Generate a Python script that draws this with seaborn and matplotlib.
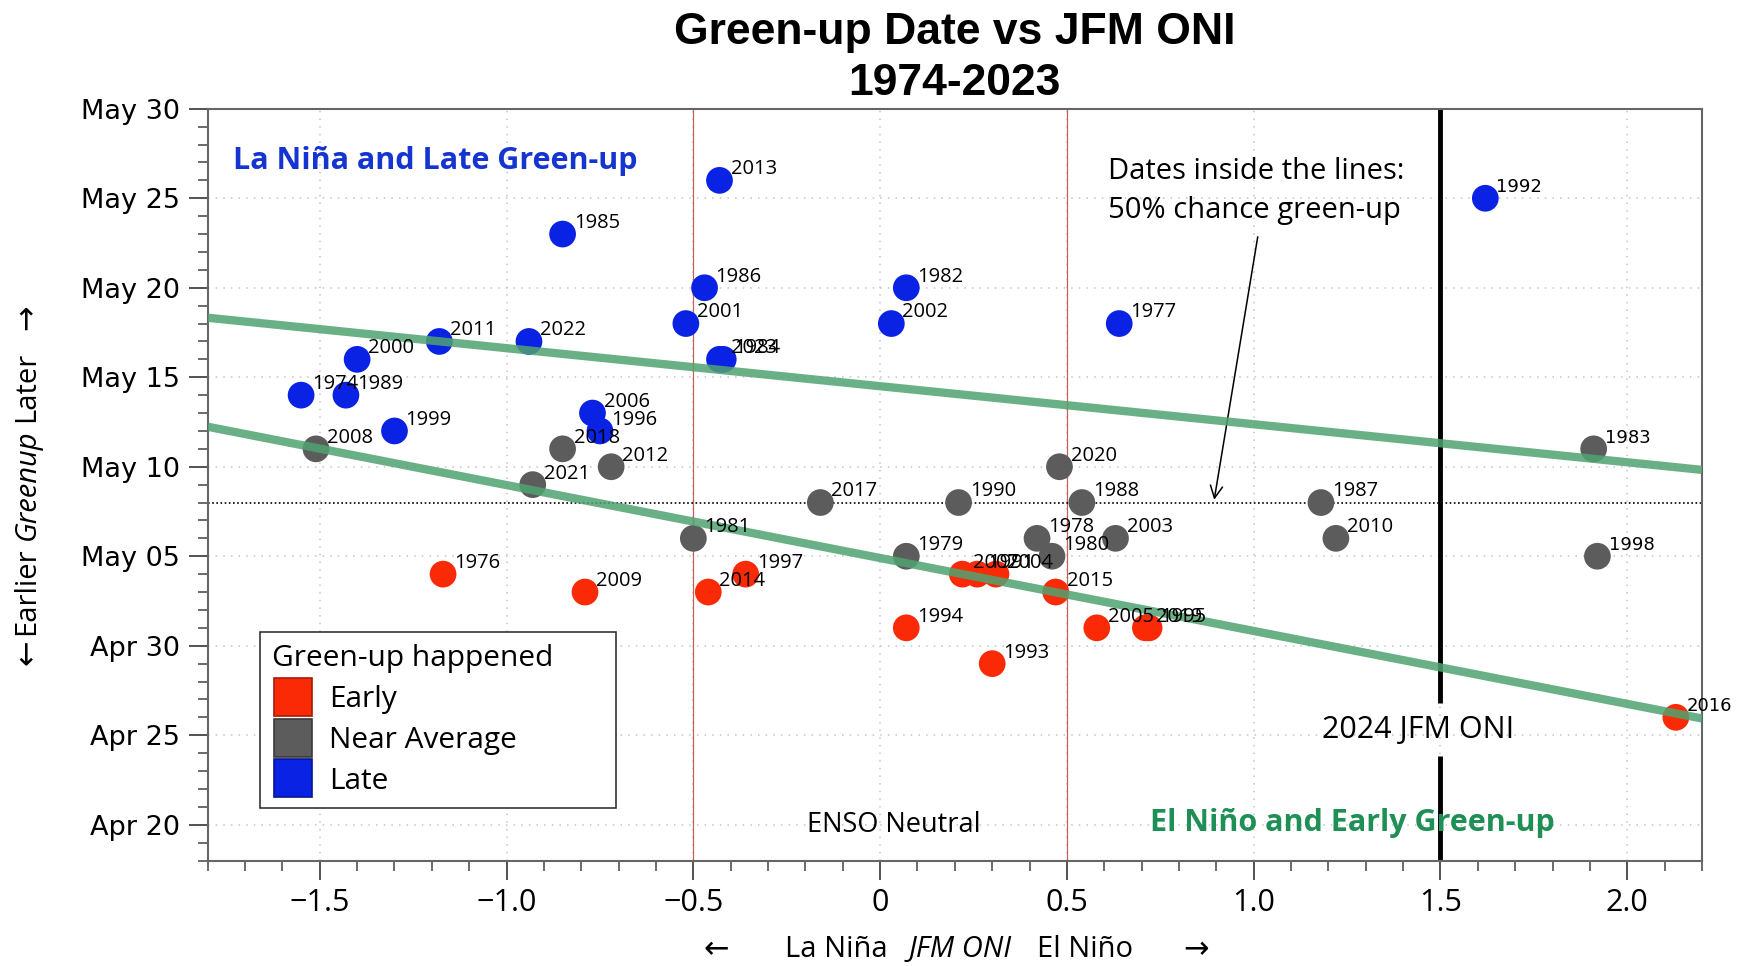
import pandas as pd
import seaborn as sns
import matplotlib.pyplot as plt
from matplotlib.lines import Line2D
from matplotlib.ticker import MultipleLocator, FuncFormatter

# green-up date vs JFM ONI
years = [2013, 1985, 1992, 1986, 1982, 2001, 2002, 1977, 2011, 2022,
         2000, 2023, 1984, 1974, 1989, 1999, 2006, 1996,
         2018, 2008, 2012, 2021, 2020, 1983, 2017, 1990, 1988, 1987,
         1981, 1978, 2003, 2010, 1979, 1980, 1998,
         1976, 1997, 2009, 2014, 2007, 1991, 2004, 2015, 1994, 2005,
         2019, 1995, 1993, 2016]
oni = [-0.43, -0.85, 1.62, -0.47, 0.07, -0.52, 0.03, 0.64, -1.18, -0.94,
       -1.40, -0.43, -0.42, -1.55, -1.43, -1.30, -0.77, -0.75,
       -0.85, -1.51, -0.72, -0.93, 0.48, 1.91, -0.16, 0.21, 0.54, 1.18,
       -0.50, 0.42, 0.63, 1.22, 0.07, 0.46, 1.92,
       -1.17, -0.36, -0.79, -0.46, 0.22, 0.26, 0.31, 0.47, 0.07, 0.58,
       0.71, 0.72, 0.30, 2.13]
greenup = ["May 26", "May 23", "May 25", "May 20", "May 20", "May 18", "May 18", "May 18", "May 17", "May 17",
           "May 16", "May 16", "May 16", "May 14", "May 14", "May 12", "May 13", "May 12",
           "May 11", "May 11", "May 10", "May 09", "May 10", "May 11", "May 08", "May 08", "May 08", "May 08",
           "May 06", "May 06", "May 06", "May 06", "May 05", "May 05", "May 05",
           "May 04", "May 04", "May 03", "May 03", "May 04", "May 04", "May 04", "May 03", "May 01", "May 01",
           "May 01", "May 01", "Apr 29", "Apr 26"]
category = ["Late"] * 18 + ["Near Average"] * 17 + ["Early"] * 14
# labels on the far right are set in a different font in the original
alt_font_years = [1992, 1983, 1998, 2016]

categories = ["Early", "Near Average", "Late"]
colors = {"Early": "#fb2a06", "Near Average": "#5c5c5c", "Late": "#0a22e4"}
edges = {"Early": "#a81a05", "Near Average": "#3a3a3a", "Late": "#06168f"}

# bands (day of year at ONI = 0, days per unit ONI)
upper_b, upper_m = 134.5, -2.125
lower_b, lower_m = 124.9, -4.075
mean_day = "May 08"
oni_2024 = 1.5

df = pd.DataFrame({"year": years, "oni": oni, "date": greenup, "category": category})
df["doy"] = pd.to_datetime("2001 " + df["date"], format="%Y %b %d").dt.dayofyear
mean_doy = pd.to_datetime("2001 " + mean_day, format="%Y %b %d").dayofyear

sns.set_theme(style="white")
plt.rcParams["font.family"] = ["Open Sans", "DejaVu Sans"]
plt.rcParams["text.color"] = "black"
plt.rcParams["xtick.color"] = "black"
plt.rcParams["ytick.color"] = "black"

fig = plt.figure(figsize=(17.41, 9.66), dpi=100)
ax = fig.add_axes([0.1193, 0.1092, 0.8583, 0.7782])

ax.set_xlim(-1.8, 2.2)
ax.set_ylim(108, 150)
ax.grid(True, which="major", color="#c4c4c4", linestyle=(0, (1, 4)), linewidth=1.1)

# ENSO neutral bounds
for v in (-0.5, 0.5):
    ax.axvline(v, color="#c8605c", linewidth=0.9, zorder=2)
ax.axhline(mean_doy, color="black", linestyle=(0, (1, 1.5)), linewidth=1.2, zorder=2)

# 2024 line with a gap for its label
ax.vlines(oni_2024, 116.8, 150, color="black", linewidth=3.5, zorder=2)
ax.vlines(oni_2024, 108, 113.85, color="black", linewidth=3.5, zorder=2)
ax.text(1.44, 115.3, "2024 JFM ONI", fontsize=22, ha="center", va="center")

sns.scatterplot(data=df, x="oni", y="doy", hue="category", palette=colors,
                hue_order=categories, s=370, edgecolor="none", legend=False,
                ax=ax, zorder=3)

xs = pd.Series([-1.8, 2.2])
ax.plot(xs, upper_b + upper_m * xs, color="#50a371", alpha=0.85, linewidth=6, zorder=4,
        solid_capstyle="butt")
ax.plot(xs, lower_b + lower_m * xs, color="#50a371", alpha=0.85, linewidth=6, zorder=4,
        solid_capstyle="butt")

for _, r in df.iterrows():
    if r["year"] in alt_font_years:
        ax.annotate(str(r["year"]), (r["oni"], r["doy"]), xytext=(8, 8),
                    textcoords="offset points", fontsize=13, family="DejaVu Sans",
                    ha="left", va="center", zorder=5)
    else:
        ax.annotate(str(r["year"]), (r["oni"], r["doy"]), xytext=(8, 8),
                    textcoords="offset points", fontsize=14.5, ha="left", va="center", zorder=5)

ax.text(-1.731, 147.1, "La Niña and Late Green-up", color="#1535d0", fontsize=22,
        fontweight="bold", ha="left", va="center")
ax.text(1.263, 110.1, "El Niño and Early Green-up", color="#1e8f55", fontsize=22,
        fontweight="bold", ha="center", va="center")
ax.text(0.036, 110.0, "ENSO Neutral", fontsize=19.5, ha="center", va="center")
ax.text(0.609, 145.4, "Dates inside the lines:\n50% chance green-up", fontsize=21,
        ha="left", va="center", linespacing=1.45)
ax.annotate("", xy=(0.893, mean_doy), xytext=(1.012, 143.0),
            arrowprops=dict(arrowstyle="->", color="black", linewidth=1.1, mutation_scale=22))

# ticks
ax.xaxis.set_major_locator(MultipleLocator(0.5))
ax.xaxis.set_minor_locator(MultipleLocator(0.1))
ax.yaxis.set_major_locator(MultipleLocator(5))
ax.yaxis.set_minor_locator(MultipleLocator(1))
ax.xaxis.set_major_formatter(FuncFormatter(lambda v, p: "0" if abs(v) < 1e-9 else f"{v:.1f}".replace("-", "\u2212")))
ax.yaxis.set_major_formatter(FuncFormatter(
    lambda v, p: (pd.Timestamp("2001-01-01") + pd.Timedelta(days=int(round(v)) - 1)).strftime("%b %d")))
ax.tick_params(axis="both", which="major", direction="out", length=14, width=1.3, color="#444444")
ax.tick_params(axis="both", which="minor", direction="out", length=7, width=1.1, color="#444444")
ax.tick_params(axis="x", which="major", labelsize=22, pad=6, labelcolor="black")
ax.tick_params(axis="y", which="major", labelsize=19.5, pad=6, labelcolor="black")
ax.tick_params(axis="both", which="both", bottom=True, left=True)
for lab in ax.get_yticklabels():
    lab.set_family("DejaVu Sans")
for sp in ax.spines.values():
    sp.set_color("#666666")
    sp.set_linewidth(1.5)
ax.set_xlabel("")
ax.set_ylabel("")

ax.set_title("Green-up Date vs JFM ONI\n1974-2023", fontsize=32, fontweight="bold",
             family="Liberation Sans", pad=10, linespacing=1.3, color="black")

# axis labels with italic middle word
xl_y = 0.0166
fig.text(0.4113, xl_y, "\u2190", fontsize=22, ha="center", va="center", family="DejaVu Sans")
fig.text(0.4802, xl_y, "La Niña", fontsize=21, ha="center", va="center")
fig.text(0.5515, xl_y, "JFM ONI", fontsize=21, ha="center", va="center", style="italic")
fig.text(0.6234, xl_y, "El Niño", fontsize=21, ha="center", va="center")
fig.text(0.687, xl_y, "\u2192", fontsize=22, ha="center", va="center", family="DejaVu Sans")

yl_x = 0.0155
fig.text(yl_x, 0.325, "\u2190", fontsize=22, ha="center", va="center", rotation=90, family="DejaVu Sans")
fig.text(yl_x, 0.388, "Earlier", fontsize=21, ha="center", va="center", rotation=90)
fig.text(yl_x, 0.498, "Greenup", fontsize=21, ha="center", va="center", rotation=90, style="italic")
fig.text(yl_x, 0.6, "Later", fontsize=21, ha="center", va="center", rotation=90)
fig.text(yl_x, 0.672, "\u2192", fontsize=22, ha="center", va="center", rotation=90, family="DejaVu Sans")

handles = [Line2D([], [], marker="s", linestyle="", markersize=27, markerfacecolor=colors[c],
                  markeredgecolor=edges[c], markeredgewidth=1.2, label=c) for c in categories]
leg = ax.legend(handles=handles, title="Green-up happened", loc="lower left",
                bbox_to_anchor=(0.035, 0.07, 0.2385, 0.2), mode="expand", borderaxespad=0,
                fontsize=21.5, title_fontsize=21.5,
                frameon=True, fancybox=False, edgecolor="#333333", framealpha=1,
                handletextpad=0.5, labelspacing=0.4, borderpad=0.4, alignment="left",
                handlelength=1.4)
leg.get_frame().set_linewidth(1.2)
leg.set_zorder(6)

fig.savefig("out.png", dpi=100)
